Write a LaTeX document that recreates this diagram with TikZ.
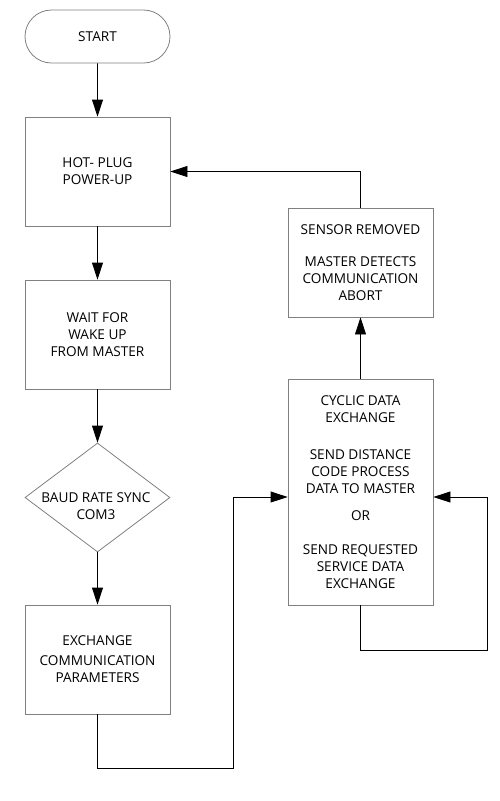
\documentclass[tikz,border=0pt]{standalone}
\usepackage{fontspec}
\setmainfont{Open Sans}
\usepackage{tikz}
\usetikzlibrary{shapes.geometric}
\usetikzlibrary{shapes.misc}
\usetikzlibrary{arrows.meta}
\tikzstyle{chart_font}=[font=\fontsize{13.6}{17}\selectfont, align=center]
\tikzstyle{step_box}=[rectangle, draw=gray, line width=0.8pt, minimum width=145pt, minimum height=109pt, inner sep=0pt, chart_font]
\tikzstyle{start_box}=[rounded rectangle, draw=gray, line width=0.8pt, minimum width=145pt, minimum height=53pt, inner sep=0pt, chart_font]
\tikzstyle{decision_box}=[diamond, draw=gray, line width=0.8pt, minimum width=145pt, minimum height=109pt, inner sep=0pt]
\tikzstyle{flow_arrow}=[draw=black, line width=0.8pt, -{Triangle[length=17pt,width=11pt]}]

\begin{document}
\begin{tikzpicture}[x=1pt,y=-1pt]
\useasboundingbox (0,0) rectangle (500,801);
\node[start_box] (start) at (97.5,36.5){START};
\node[step_box] (hotplug) at (97.5,171.5){HOT- PLUG\\POWER-UP};
\node[step_box] (wakeup) at (97.5,334.5){WAIT FOR\\WAKE UP\\FROM MASTER};
\node[decision_box] (baud) at (97.5,497.5){};
\node[chart_font] (baudtext) at (96,506){BAUD RATE SYNC\\COM3};
\node[step_box] (params) at (97.5,659.5){EXCHANGE\\[3pt]COMMUNICATION\\PARAMETERS};
\node[step_box, minimum height=226pt] (cyclic) at (360.5,492){CYCLIC DATA\\EXCHANGE\\[20pt]SEND DISTANCE\\CODE PROCESS\\DATA TO MASTER\\[10pt]OR\\[17pt]SEND REQUESTED\\SERVICE DATA\\EXCHANGE};
\node[step_box] (removed) at (360.5,262.5){SENSOR REMOVED\\[15pt]MASTER DETECTS\\COMMUNICATION\\ABORT};
\coordinate (lowturn) at (233,768);
\coordinate (loopturn) at (487,650);
\draw[flow_arrow](start) -- (hotplug);
\draw[flow_arrow](hotplug) -- (wakeup);
\draw[flow_arrow](wakeup) -- (baud);
\draw[flow_arrow](baud) -- (params);
\draw[flow_arrow](params.south) |- (lowturn) |- ([yshift=-5pt]cyclic.west);
\draw[flow_arrow](cyclic) -- (removed);
\draw[flow_arrow](removed.north) |- (hotplug.east);
\draw[flow_arrow](cyclic.south) |- (loopturn) |- ([yshift=-5pt]cyclic.east);
\end{tikzpicture}
\end{document}
